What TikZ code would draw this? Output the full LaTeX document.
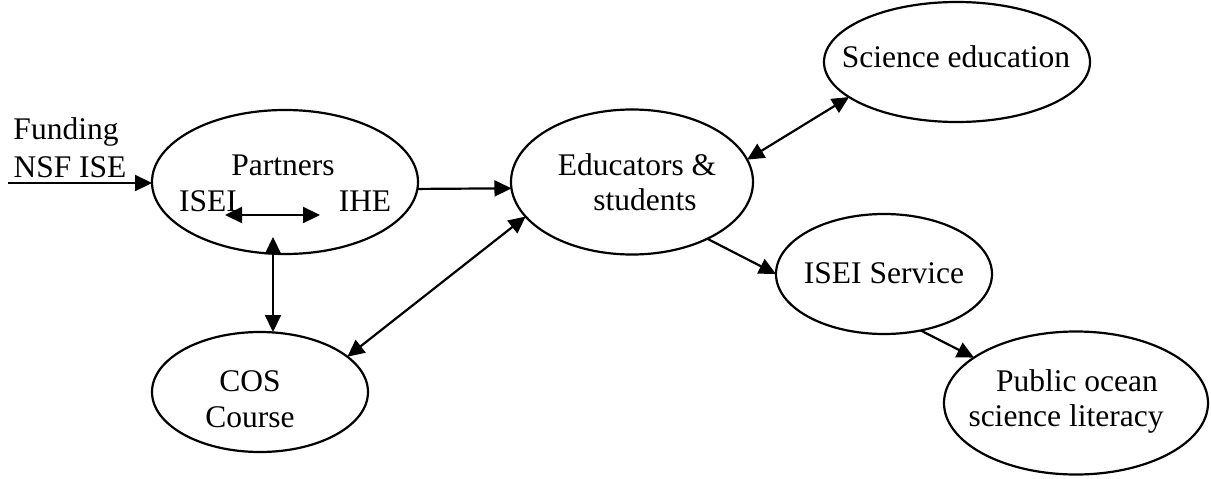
\documentclass[tikz,border=0pt]{standalone}
\usepackage{fontspec}
\setmainfont{Liberation Serif}
\usetikzlibrary{shapes.geometric,arrows.meta}
\tikzset{
  oval/.style={ellipse,draw,line width=2.2pt,inner sep=0pt,outer sep=0pt},
  lbl/.style={anchor=base,inner sep=0pt,font=\fontsize{31.5}{36}\selectfont},
  conn/.style={line width=2.2pt,-{Triangle[length=17pt,width=16pt]}},
  bconn/.style={line width=2.2pt,{Triangle[length=17pt,width=16pt]}-{Triangle[length=17pt,width=16pt]}}
}
\begin{document}
\begin{tikzpicture}[x=1pt,y=-1pt]
\useasboundingbox (0,0) rectangle (1211,479);
% ellipses
\node[oval,minimum width=266pt,minimum height=144pt] (part) at (285,182) {};
\node[oval,minimum width=242pt,minimum height=145pt] (edu) at (632,182) {};
\node[oval,minimum width=266pt,minimum height=120pt] (sci) at (957,62) {};
\node[oval,minimum width=216pt,minimum height=120pt] (isei) at (884,274) {};
\node[oval,minimum width=264pt,minimum height=143pt] (pub) at (1076,403) {};
\node[oval,minimum width=216pt,minimum height=120pt] (cos) at (260,392) {};
% texts
\node[lbl] (tfund) at (66,139) {Funding};
\node[lbl] (tnsf) at (70,177) {NSF ISE};
\node[lbl] (tpart) at (283,175) {Partners};
\node[lbl] (tisei) at (208,211) {ISEI};
\node[lbl] (tihe) at (365,211) {IHE};
\node[lbl] (tedu1) at (637,175) {Educators \&};
\node[lbl] (tedu2) at (645,210) {students};
\node[lbl] (tsci) at (956,67) {Science education};
\node[lbl] (tserv) at (884,283) {ISEI Service};
\node[lbl] (tpub1) at (1077,391) {Public ocean};
\node[lbl] (tpub2) at (1066,426) {science literacy};
\node[lbl] (tcos1) at (250,391) {COS};
\node[lbl] (tcos2) at (250,427) {Course};
% free ends
\coordinate (fund) at (8,183);
\coordinate (a1) at (225,215);
\coordinate (a2) at (320,215);
\coordinate (v1) at (273,237);
% connectors
\draw[conn] (fund) -- (fund -| part.west);
\draw[bconn] (a1) -- (a2);
\draw[bconn] (v1) -- (v1 |- cos.north);
\draw[conn] (part.-3.5) -- (edu.183.8);
\draw[bconn] (edu.11.2) -- (sci.198.1);
\draw[bconn] (cos.22.4) -- (edu.198.4);
\draw[conn] (edu.-37.1) -- (isei.west);
\draw[conn] (isei.-57.7) -- (pub.156.2);
\end{tikzpicture}
\end{document}
